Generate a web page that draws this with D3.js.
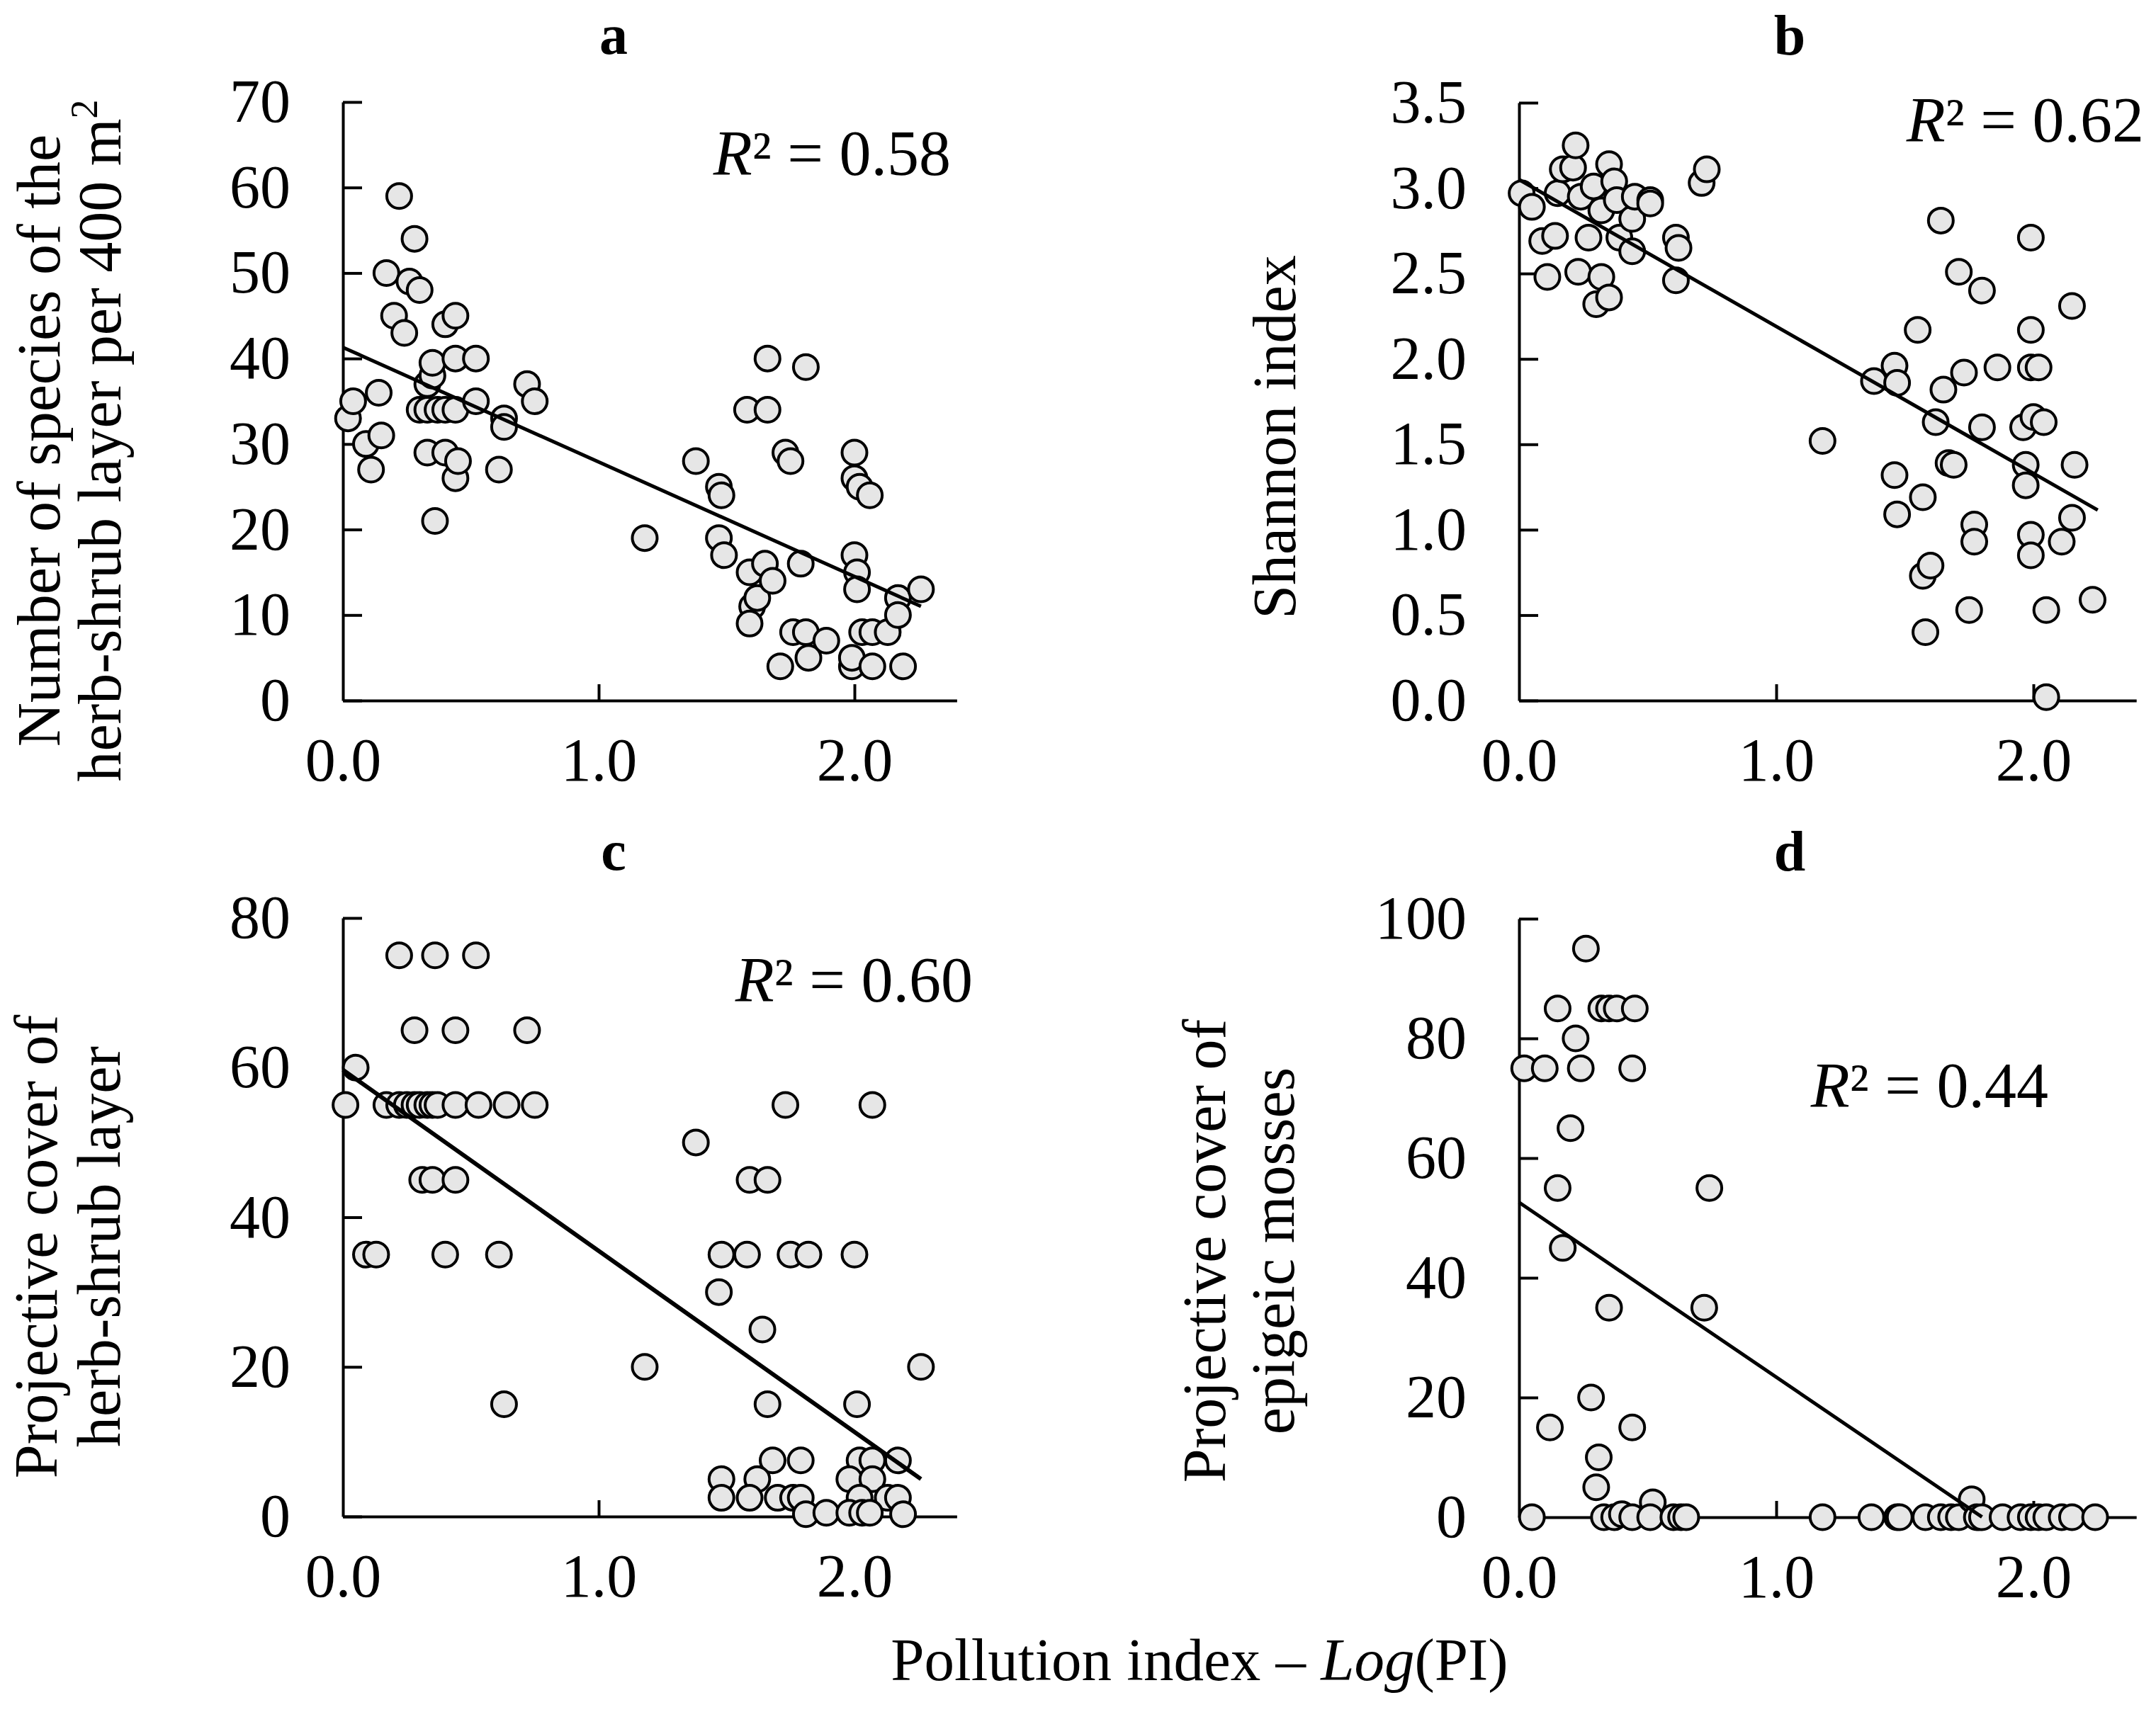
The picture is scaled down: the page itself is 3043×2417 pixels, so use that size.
<!DOCTYPE html>
<html>
<head>
<meta charset="utf-8">
<script src="https://cdn.jsdelivr.net/npm/d3@7"></script>
<style>
  body { margin: 0; background: #fff; }
  svg { display: block; }
</style>
</head>
<body>
<script>
// values: Log(PI) vs four vegetation measures

// a: number of species
const piA = [0.02, 0.04, 0.09, 0.11, 0.14, 0.15, 0.17, 0.20, 0.22, 0.24, 0.26, 0.28, 0.30, 0.30, 0.33, 0.33, 0.33, 0.35, 0.35, 0.36,
  0.37, 0.40, 0.40, 0.40, 0.44, 0.44, 0.44, 0.44, 0.45, 0.52, 0.52, 0.61, 0.63, 0.63, 0.72, 0.75,
  1.18, 1.38, 1.47, 1.48, 1.47, 1.49, 1.58, 1.59, 1.60, 1.59, 1.62, 1.65, 1.66, 1.66, 1.68, 1.71, 1.73, 1.75, 1.76, 1.79,
  1.81, 1.81, 1.82, 1.89, 1.99, 1.99, 2.00, 2.00, 2.00, 2.01, 2.01, 2.02, 2.06, 2.03, 2.07, 2.07, 2.13, 2.17, 2.17, 2.19, 2.26]
const speciesA = [33, 35, 30, 27, 36, 31, 50, 45, 59, 43, 49, 54, 48, 34, 34, 37, 29, 38, 39.5, 21,
  34, 34, 44, 29, 45, 40, 34, 26, 28, 40, 35, 27, 33, 32, 37, 35,
  19, 28, 25, 24, 19, 17, 34, 15, 11, 9, 12, 16, 40, 34, 14, 4, 29, 28, 8, 16,
  8, 39, 5, 7, 4, 5, 29, 26, 17, 15, 13, 25, 24, 8, 4, 8, 8, 12, 10, 4, 13]

// b: Shannon index
const piB = [0.01, 0.05, 0.09, 0.11, 0.14, 0.15, 0.17, 0.21, 0.22, 0.23, 0.24, 0.27, 0.29, 0.30, 0.32, 0.32, 0.35, 0.35, 0.37, 0.38,
  0.39, 0.44, 0.44, 0.45, 0.51, 0.51, 0.61, 0.62, 0.61, 0.71, 0.73, 1.18,
  1.38, 1.46, 1.47, 1.46, 1.47, 1.55, 1.57, 1.57, 1.60, 1.58, 1.62, 1.65, 1.64, 1.67, 1.69, 1.71, 1.73, 1.75, 1.77, 1.77,
  1.80, 1.80, 1.86, 1.96, 1.97, 1.97, 1.99, 1.99, 1.99, 2.00, 1.99, 1.99, 2.02, 2.04, 2.05, 2.05, 2.11, 2.15, 2.15, 2.16, 2.23]
const shannonB = [2.97, 2.89, 2.69, 2.48, 2.72, 2.97, 3.11, 3.12, 3.25, 2.51, 2.95, 2.71, 3.01, 2.32, 2.87, 2.48, 3.14, 2.36, 3.04, 2.93,
  2.71, 2.82, 2.63, 2.95, 2.93, 2.91, 2.71, 2.65, 2.46, 3.03, 3.11, 1.52,
  1.87, 1.96, 1.86, 1.32, 1.09, 2.17, 1.19, 0.73, 0.79, 0.40, 1.63, 1.82, 2.81, 1.39, 1.38, 2.51, 1.92, 0.53, 1.03, 0.93,
  1.60, 2.40, 1.95, 1.60, 1.38, 1.26, 2.17, 2.71, 1.95, 1.66, 0.97, 0.85, 1.95, 1.63, 0.53, 0.02, 0.93, 1.07, 2.31, 1.38, 0.59]

// c: cover of herb-shrub layer
const piC = [0.01, 0.05, 0.09, 0.13, 0.17, 0.22, 0.25, 0.28, 0.30, 0.33, 0.35, 0.37, 0.44, 0.53, 0.64, 0.75,
  0.22, 0.36, 0.52, 0.28, 0.44, 0.72, 0.31, 0.35, 0.44, 0.40, 0.61, 0.63,
  1.18, 1.38, 1.47, 1.48, 1.58, 1.59, 1.66, 1.64, 1.66, 1.73, 1.75, 1.82, 2.00, 2.01, 2.07, 2.26,
  1.68, 1.79, 2.02, 2.07, 2.17, 1.48, 1.62, 1.98, 2.07,
  1.48, 1.59, 1.70, 1.76, 1.79, 2.02, 2.13, 2.17, 1.81, 1.89, 1.98, 2.03, 2.06, 2.19]
const coverC = [55, 60, 35, 35, 55, 55, 55, 55, 55, 55, 55, 55, 55, 55, 55, 55,
  75, 75, 75, 65, 65, 65, 45, 45, 45, 35, 35, 15,
  20, 50, 30, 35, 35, 45, 45, 25, 15, 55, 35, 35, 35, 15, 55, 20,
  7.5, 7.5, 7.5, 7.5, 7.5, 5, 5, 5, 5,
  2.5, 2.5, 2.5, 2.5, 2.5, 2.5, 2.5, 2.5, 0.3, 0.5, 0.5, 0.5, 0.5, 0.3]

// d: cover of epigeic mosses
const piD = [0.02, 0.10, 0.24, 0.44, 0.15, 0.32, 0.35, 0.38, 0.45, 0.26, 0.22, 0.20, 0.15, 0.74, 0.17, 0.35, 0.72,
  0.28, 0.12, 0.44, 0.31, 0.30, 0.52,
  0.05, 0.33, 0.37, 0.40, 0.44, 0.51, 0.60, 0.63, 0.65,
  1.18, 1.37, 1.47, 1.48, 1.58, 1.64, 1.68, 1.71, 1.76, 1.78, 1.80, 1.88, 1.95, 1.99, 2.02, 2.05, 2.11, 2.15, 2.24]
const mossD = [75, 75, 75, 75, 85, 85, 85, 85, 85, 95, 80, 65, 55, 55, 45, 35, 35,
  20, 15, 15, 10, 5, 2.5,
  0, 0, 0, 0.5, 0, 0, 0, 0, 0,
  0, 0, 0, 0, 0, 0, 0, 0, 3, 0, 0, 0, 0, 0, 0, 0, 0, 0, 0]

// fitted lines: [intercept, slope, x start, x end]
const fitA = [41.3, -13.4, 0, 2.26]
const fitB = [3.05, -0.86, 0, 2.25]
const fitC = [59.7, -24.2, 0, 2.26]
const fitD = [52.6, -29.2, 0, 1.80]

const r2Labels = ['0.58', '0.62', '0.60', '0.44']
const panelLetters = ['a', 'b', 'c', 'd']
const xTicks = [0, 1, 2]
const yTicksA = [0, 10, 20, 30, 40, 50, 60, 70]
const yTicksB = [0, 0.5, 1, 1.5, 2, 2.5, 3, 3.5]
const yTicksC = [0, 20, 40, 60, 80]
const yTicksD = [0, 20, 40, 60, 80, 100]

const W = 3043, H = 2417
const FONT = '"Liberation Serif", "Times New Roman", serif'

const svg = d3.select('body').append('svg')
  .attr('width', W)
  .attr('height', H)
  .attr('font-family', FONT)
svg.append('rect').attr('width', W).attr('height', H).attr('fill', '#fff')

const panels = [
  { xs: piA, ys: speciesA, fit: fitA, yTicks: yTicksA, fmt: d3.format('d'),
    left: 484, unit: 361, top: 144, bottom: 989, r2: [1342, 247],
    title: [['Number of species of the', 84], ['herb-shrub layer per 400 m', 170, '2']], titleY: 622 },
  { xs: piB, ys: shannonB, fit: fitB, yTicks: yTicksB, fmt: d3.format('.1f'),
    left: 2144, unit: 363, top: 145, bottom: 989, r2: [3026, 200],
    title: [['Shannon index', 1828]], titleY: 617 },
  { xs: piC, ys: coverC, fit: fitC, yTicks: yTicksC, fmt: d3.format('d'),
    left: 484, unit: 361, top: 1296, bottom: 2141, r2: [1373, 1414],
    title: [['Projective cover of', 80], ['herb-shrub layer', 169]], titleY: 1760 },
  { xs: piD, ys: mossD, fit: fitD, yTicks: yTicksD, fmt: d3.format('d'),
    left: 2144, unit: 363, top: 1297, bottom: 2142, r2: [2891, 1563],
    title: [['Projective cover of', 1729], ['epigeic mosses', 1826]], titleY: 1766 }
]

panels.forEach(function(p, i) {
  const x = d3.scaleLinear().domain([0, 2.4]).range([p.left, p.left + 2.4 * p.unit])
  const y = d3.scaleLinear().domain([0, d3.max(p.yTicks)]).range([p.bottom, p.top])
  const g = svg.append('g')

  // axes
  const xAxis = d3.axisBottom(x).tickValues(xTicks).tickFormat(d3.format('.1f'))
    .tickSizeInner(-23).tickSizeOuter(0).tickPadding(52)
  const yAxis = d3.axisLeft(y).tickValues(p.yTicks).tickFormat(p.fmt)
    .tickSizeInner(-27).tickSizeOuter(0).tickPadding(74)

  const gx = g.append('g').attr('transform', `translate(0,${p.bottom})`).call(xAxis)
  const gy = g.append('g').attr('transform', `translate(${p.left},0)`).call(yAxis)
  ;[gx, gy].forEach(function(a) {
    a.attr('font-family', FONT).attr('font-size', 86)
    a.select('.domain').attr('stroke', '#000').attr('stroke-width', 4)
    a.selectAll('.tick line').attr('stroke', '#000').attr('stroke-width', 4)
    a.selectAll('.tick text').attr('fill', '#000')
  })
  gx.selectAll('.tick').filter(d => d === 0).select('line').remove()

  // points
  const pts = p.xs.map((v, k) => [v, p.ys[k]])
  g.append('g').selectAll('circle')
    .data(pts)
    .enter().append('circle')
    .attr('cx', d => x(d[0]))
    .attr('cy', d => y(d[1]))
    .attr('r', 17.5)
    .attr('fill', '#e6e6e6')
    .attr('stroke', '#000')
    .attr('stroke-width', 4)

  // regression line
  const f = p.fit
  const fitPts = [f[2], f[3]].map(v => [v, f[0] + f[1] * v])
  g.append('path')
    .datum(fitPts)
    .attr('fill', 'none')
    .attr('stroke', '#000')
    .attr('stroke-width', i === 2 ? 6 : 5)
    .attr('d', d3.line().x(d => x(d[0])).y(d => y(d[1])))

  // panel letter
  g.append('text')
    .attr('x', p.left + 382)
    .attr('y', p.top - 68)
    .attr('text-anchor', 'middle')
    .attr('font-size', 80)
    .attr('font-weight', 'bold')
    .text(panelLetters[i])

  // R squared
  const r2 = g.append('text')
    .attr('x', p.r2[0])
    .attr('y', p.r2[1])
    .attr('text-anchor', 'end')
    .attr('font-size', 90)
  r2.append('tspan').attr('font-style', 'italic').text('R')
  r2.append('tspan').text('² = ' + r2Labels[i])

  // y title
  p.title.forEach(function(t) {
    const tt = g.append('text')
      .attr('transform', `translate(${t[1]},${p.titleY}) rotate(-90)`)
      .attr('text-anchor', 'middle')
      .attr('font-size', 86)
    tt.append('tspan').text(t[0])
    if (t[2]) {
      tt.append('tspan').attr('font-size', 54).attr('dy', -33).text(t[2])
    }
  })
})

// shared x title
const xt = svg.append('text')
  .attr('x', 1693)
  .attr('y', 2372)
  .attr('text-anchor', 'middle')
  .attr('font-size', 85)
xt.append('tspan').text('Pollution index – ')
xt.append('tspan').attr('font-style', 'italic').text('Log')
xt.append('tspan').text('(PI)')
</script>
</body>
</html>
